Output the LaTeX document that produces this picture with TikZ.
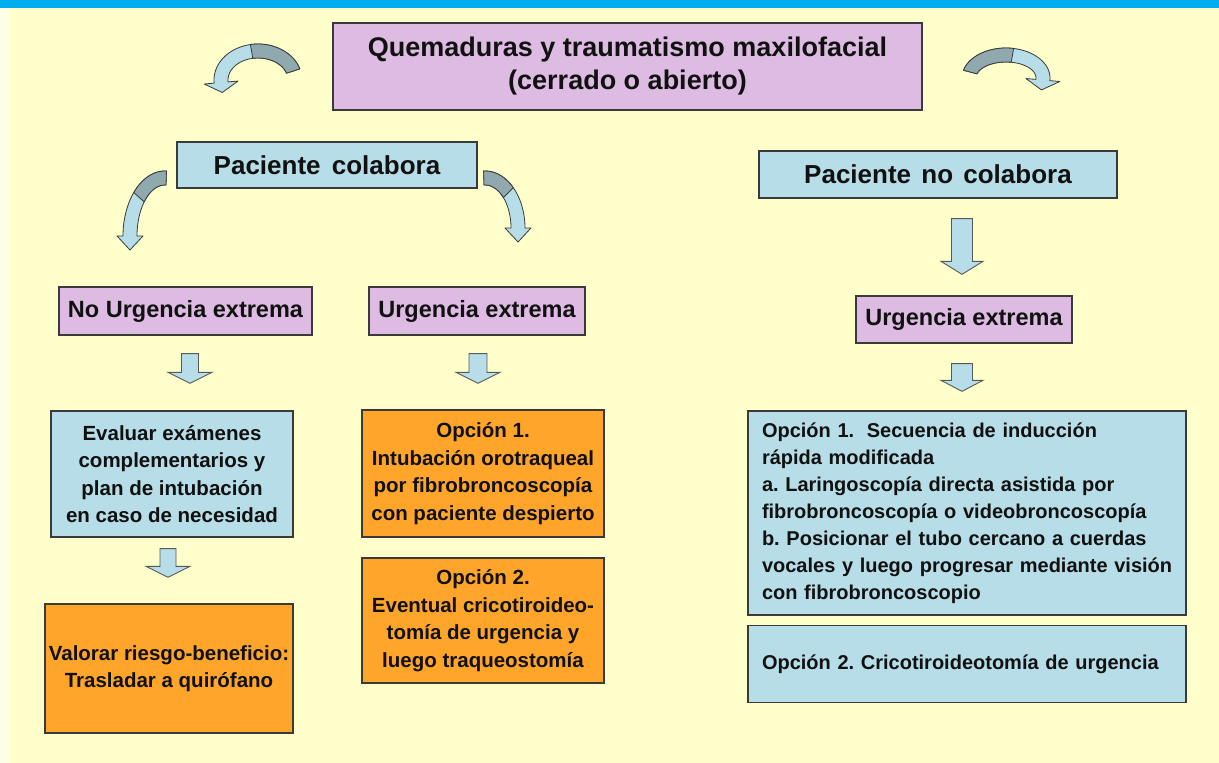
\documentclass[tikz,border=0pt]{standalone}
\usepackage{fontspec}
\setmainfont{Liberation Sans}
\usetikzlibrary{calc}
\frenchspacing
\hbadness=10000 \hfuzz=20pt
\definecolor{bg}{HTML}{FFFFCC}
\definecolor{bgl}{HTML}{FFFFE6}
\definecolor{topbar}{HTML}{00AEEF}
\definecolor{pinkb}{HTML}{DEBBE2}
\definecolor{blueb}{HTML}{B7DEE8}
\definecolor{orangeb}{HTML}{FFA52A}
\definecolor{edge}{HTML}{3A3A3A}
\definecolor{arrdark}{HTML}{8FA9AF}
\definecolor{txt}{HTML}{111111}
\tikzset{
 bx/.style={draw=edge, line width=1.3pt, inner sep=0pt, align=center, text=txt,
   font=\bfseries\fontsize{20.5}{27.5}\selectfont},
 pinkbox/.style={bx, fill=pinkb},
 bluebox/.style={bx, fill=blueb},
 orbox/.style={bx, fill=orangeb},
 rightbox/.style={bluebox, text width=410, align=left, font=\bfseries\fontsize{20}{27}\selectfont},
 blockarr/.style={draw=edge!85, line width=0.9pt, fill=blueb, line join=miter},
 curvlight/.style={draw=edge, line width=0.8pt, fill=blueb, line join=round},
 curvdark/.style={draw=edge, line width=0.8pt, fill=arrdark, line join=round},
}
% block arrow: top coordinate, tip coordinate, shaft half, head half, head length
\newcommand\barrow[5]{%
 \path[blockarr] let \p1=(#1), \p2=(#2) in
  (\x1-#3pt,\y1) -- (\x1+#3pt,\y1) -- (\x1+#3pt,\y2+#5pt) -- (\x1+#4pt,\y2+#5pt)
  -- (\x1,\y2) -- (\x1-#4pt,\y2+#5pt) -- (\x1-#3pt,\y2+#5pt) -- cycle;}
% curved arrow: cx cy rx ry a1 am a2 sign barb
\def\ch{7}\def\cL{12}
\newcommand\curvarr[9]{%
 \pgfmathsetmacro\cN{sqrt((#3*sin(#7))^2+(#4*cos(#7))^2)}%
 \pgfmathsetmacro\tx{#1+#3*cos(#7)+\cL*(#8)*(-#3*sin(#7))/\cN}%
 \pgfmathsetmacro\ty{#2+#4*sin(#7)+\cL*(#8)*(#4*cos(#7))/\cN}%
 \filldraw[curvlight] plot[domain=#5:#7,samples=40,variable=\t] ({#1+(#3+\ch)*cos(\t)},{#2+(#4+\ch)*sin(\t)})
   -- ({#1+(#3+\ch+#9)*cos(#7)},{#2+(#4+\ch+#9)*sin(#7)})
   -- (\tx,\ty)
   -- ({#1+(#3-\ch-#9)*cos(#7)},{#2+(#4-\ch-#9)*sin(#7)})
   -- plot[domain=#7:#5,samples=40,variable=\t] ({#1+(#3-\ch)*cos(\t)},{#2+(#4-\ch)*sin(\t)}) -- cycle;
 \filldraw[curvdark] plot[domain=#5:#6,samples=30,variable=\t] ({#1+(#3+\ch)*cos(\t)},{#2+(#4+\ch)*sin(\t)})
   -- plot[domain=#6:#5,samples=30,variable=\t] ({#1+(#3-\ch)*cos(\t)},{#2+(#4-\ch)*sin(\t)}) -- cycle;}
\begin{document}
\begin{tikzpicture}[x=1pt,y=-1pt]
\useasboundingbox (0,0) rectangle (1219,763);
\fill[bg] (0,0) rectangle (1219,763);
\fill[bgl] (0,8) rectangle (10,763);
\fill[topbar] (0,0) rectangle (1219,8);

% boxes
\node[pinkbox, minimum width=589, minimum height=87, font=\bfseries\fontsize{27}{33}\selectfont] (T) at (627.5,66.5)
  {Quemaduras y traumatismo maxilofacial\\(cerrado o abierto)};
\node[bluebox, minimum width=300, minimum height=46, font=\bfseries\fontsize{26}{30}\selectfont] (PC) at (327,165)
  {Paciente\hspace{4pt} colabora};
\node[bluebox, minimum width=358, minimum height=47, font=\bfseries\fontsize{26}{30}\selectfont] (PNC) at (938,174.5)
  {Paciente\hspace{3pt} no\hspace{3pt} colabora};
\node[pinkbox, minimum width=253, minimum height=48, font=\bfseries\fontsize{23.5}{28}\selectfont] (NU) at (185.5,311)
  {No Urgencia extrema};
\node[pinkbox, minimum width=216, minimum height=48, font=\bfseries\fontsize{23.5}{28}\selectfont] (UL) at (477,311)
  {Urgencia extrema};
\node[pinkbox, minimum width=216, minimum height=47, font=\bfseries\fontsize{23.5}{28}\selectfont] (UR) at (964,319.5)
  {Urgencia extrema};
\node[bluebox, minimum width=242, minimum height=126] (EV) at (172,474)
  {Evaluar exámenes\\complementarios y\\plan de intubación\\en caso de necesidad};
\node[orbox, minimum width=248, minimum height=129] (VA) at (169,668.5)
  {Valorar riesgo-beneficio:\\Trasladar a quirófano};
\node[orbox, minimum width=242, minimum height=127] (O1) at (483,473.5)
  {Opción 1.\\Intubación orotraqueal\\por fibrobroncoscopía\\con paciente despierto};
\node[orbox, minimum width=242, minimum height=125] (O2) at (483,620.5)
  {Opción 2.\\Eventual cricotiroideo-\\tomía de urgencia y\\luego traqueostomía};
\node[rightbox, minimum width=438, minimum height=204] (R1) at (967,513)
  {Opción 1.\hspace{6pt} Secuencia de inducción\\rápida modificada\\a. Laringoscopía directa asistida por\\fibrobroncoscopía o videobroncoscopía\\b. Posicionar el tubo cercano a cuerdas\\\mbox{vocales y luego progresar mediante visión}\\con fibrobroncoscopio};
\node[rightbox, minimum width=438, minimum height=77] (R2) at (967,664)
  {\mbox{Opción 2. Cricotiroideotomía de urgencia}};

% straight block arrows
\coordinate (a1t) at ($(NU.south)+(4.5,18)$);  \coordinate (a1b) at ($(EV.north)+(0,-27)$);
\coordinate (a2t) at ($(UL.south)+(1,18)$);    \coordinate (a2b) at ($(O1.north)+(0,-26)$);
\coordinate (a3t) at ($(EV.south)+(-4,11)$);   \coordinate (a3b) at ($(VA.north)+(0,-26)$);
\coordinate (a4t) at ($(PNC.south)+(24,20)$);  \coordinate (a4b) at ($(UR.north)+(0,-21)$);
\coordinate (a5t) at ($(UR.south)+(-2,20)$);   \coordinate (a5b) at ($(R1.north)+(0,-19)$);
\barrow{a1t}{a1b}{8.5}{22}{11}
\barrow{a2t}{a2b}{9}{22}{11}
\barrow{a3t}{a3b}{8}{22}{11}
\barrow{a4t}{a4b}{10.5}{21}{13}
\barrow{a5t}{a5b}{10.5}{21}{11}

% curved arrows
\def\cL{10}
\curvarr{258}{80}{37}{29}{-18}{-100}{-185}{-1}{10}
\curvarr{1006}{78}{37}{23}{-165}{-80}{5}{1}{10}
\def\cL{14}
\curvarr{165}{236}{35}{58}{-88}{-138}{-180}{-1}{6}
\curvarr{485}{228}{33}{50}{-92}{-45}{0}{1}{6}
\end{tikzpicture}
\end{document}
